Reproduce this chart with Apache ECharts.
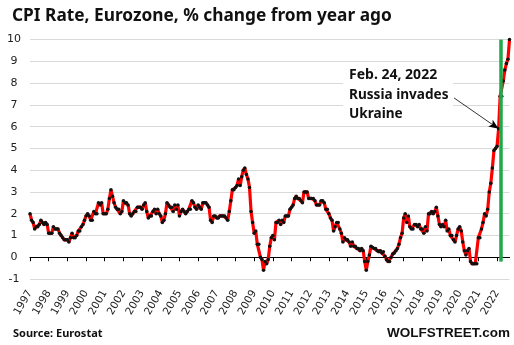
<!DOCTYPE html>
<html><head><meta charset="utf-8">
<script src="https://cdn.jsdelivr.net/npm/echarts@6/dist/echarts.min.js"></script>
<style>html,body{margin:0;padding:0;background:#fff}#c{width:514px;height:345px}</style>
</head><body><div id="c"></div>
<script>
// Year tick labels (x axis starts Jan 1997, monthly data)
const years = [1997,1998,1999,2000,2001,2002,2003,2004,2005,2006,2007,2008,2009,2010,2011,2012,2013,2014,2015,2016,2017,2018,2019,2020,2021,2022];
// CPI rate, % change from year ago, monthly
const y1997 = [2.0,1.7,1.6,1.3,1.4,1.4,1.5,1.7,1.6,1.5,1.6,1.5];
const y1998 = [1.1,1.1,1.1,1.4,1.3,1.3,1.3,1.1,1.0,0.9,0.8,0.8];
const y1999 = [0.8,0.7,0.9,1.1,0.9,0.9,1.0,1.2,1.2,1.4,1.5,1.7];
const y2000 = [1.9,2.0,1.9,1.7,1.7,2.1,2.0,2.0,2.5,2.4,2.5,2.0];
const y2001 = [2.0,2.0,2.2,2.7,3.1,2.8,2.5,2.3,2.2,2.2,2.0,2.1];
const y2002 = [2.6,2.5,2.5,2.4,2.0,1.9,2.0,2.1,2.1,2.3,2.3,2.3];
const y2003 = [2.2,2.4,2.5,2.1,1.8,1.9,1.9,2.1,2.2,2.0,2.2,2.0];
const y2004 = [1.9,1.6,1.7,2.0,2.5,2.4,2.3,2.3,2.1,2.4,2.2,2.4];
const y2005 = [1.9,2.1,2.2,2.1,2.0,2.1,2.2,2.2,2.6,2.5,2.3,2.2];
const y2006 = [2.4,2.3,2.2,2.5,2.5,2.5,2.4,2.3,1.7,1.6,1.9,1.9];
const y2007 = [1.8,1.8,1.9,1.9,1.9,1.9,1.8,1.7,2.1,2.6,3.1,3.1];
const y2008 = [3.2,3.3,3.6,3.3,3.7,4.0,4.1,3.8,3.6,3.2,2.1,1.6];
const y2009 = [1.1,1.2,0.6,0.6,0.0,-0.1,-0.6,-0.2,-0.3,-0.1,0.5,0.9];
const y2010 = [1.0,0.8,1.6,1.6,1.7,1.5,1.7,1.6,1.9,1.9,1.9,2.2];
const y2011 = [2.3,2.4,2.7,2.8,2.7,2.7,2.6,2.5,3.0,3.0,3.0,2.7];
const y2012 = [2.7,2.7,2.7,2.6,2.4,2.4,2.4,2.6,2.6,2.5,2.2,2.2];
const y2013 = [2.0,1.8,1.7,1.2,1.4,1.6,1.6,1.3,1.1,0.7,0.9,0.8];
const y2014 = [0.8,0.7,0.5,0.7,0.5,0.5,0.4,0.4,0.3,0.4,0.3,-0.2];
const y2015 = [-0.6,-0.2,0.1,0.5,0.45,0.4,0.4,0.3,0.25,0.3,0.2,0.25];
const y2016 = [0.05,-0.1,-0.2,-0.2,0.0,0.15,0.2,0.3,0.4,0.6,0.9,1.1];
const y2017 = [1.8,2.0,1.6,1.9,1.4,1.3,1.3,1.5,1.5,1.4,1.5,1.3];
const y2018 = [1.3,1.1,1.4,1.2,2.0,2.0,2.1,2.0,2.1,2.3,1.9,1.5];
const y2019 = [1.4,1.5,1.4,1.7,1.2,1.3,1.0,1.0,0.8,0.7,1.0,1.3];
const y2020 = [1.4,1.2,0.7,0.3,0.1,0.3,0.4,-0.2,-0.3,-0.3,-0.3,-0.3];
const y2021 = [0.9,0.9,1.3,1.6,2.0,1.9,2.2,3.0,3.4,4.1,4.9,5.0];
const y2022 = [5.1,5.9,7.4,7.4,8.1,8.6,8.9,9.1,10.0];
// Event annotation
const eventLines = ['Feb. 24, 2022', 'Russia invades', 'Ukraine'];
const eventMonthIndex = 302.5;   // position of the green marker (months since Jan 1997)
const arrowTargetIndex = 301;    // Feb 2022 data point
const titleText = 'CPI Rate, Eurozone, % change from year ago';
const sourceText = 'Source: Eurostat';
const brandText = 'WOLFSTREET.com';

const yearly = [y1997,y1998,y1999,y2000,y2001,y2002,y2003,y2004,y2005,y2006,y2007,y2008,y2009,y2010,y2011,y2012,y2013,y2014,y2015,y2016,y2017,y2018,y2019,y2020,y2021,y2022];
const values = [].concat(...yearly);
const seriesData = values.map((v, i) => [i, v]);
const lastIndex = values.length - 1;
const yearTickValues = years.map((y, i) => i * 12);

const chart = echarts.init(document.getElementById('c'), null, {renderer: 'canvas'});
const labelFont = 'DejaVu Sans';
const boldFont = 'Noto Sans';

chart.setOption({
  animation: false,
  backgroundColor: '#fff',
  title: {
    text: titleText, left: 7, top: 3,
    textStyle: {fontFamily: boldFont, fontWeight: 'bold', fontSize: 17.3, color: '#111'}
  },
  grid: {left: 30, right: 4.5, top: 39.6, bottom: 66, containLabel: false},
  xAxis: {
    type: 'value', min: 0, max: lastIndex,
    splitLine: {show: false},
    axisLine: {show: true, onZero: true, lineStyle: {color: '#000', width: 1.2}},
    axisTick: {show: true, customValues: yearTickValues, length: 4, inside: false, lineStyle: {color: '#000', width: 1}},
    axisLabel: {
      customValues: yearTickValues, rotate: 60, margin: 12,
      fontFamily: labelFont, fontSize: 10.5, color: '#222',
      formatter: v => String(years[Math.round(v / 12)])
    }
  },
  yAxis: {
    type: 'value', min: -1, max: 10, interval: 1,
    axisLine: {show: false}, axisTick: {show: false},
    splitLine: {show: true, lineStyle: {color: '#d9d9d9', width: 1}},
    axisLabel: {fontFamily: labelFont, fontSize: 11, color: '#222', align: 'center', margin: 16}
  },
  series: [{
    type: 'line', data: seriesData,
    lineStyle: {color: '#ff0000', width: 3.2},
    symbol: 'circle', symbolSize: 3.5, showSymbol: true,
    itemStyle: {color: '#111', borderWidth: 0},
    z: 3,
    markLine: {
      silent: true, animation: false, label: {show: false},
      symbol: ['none', 'none'],
      data: [
        [
          {coord: [eventMonthIndex, 10], lineStyle: {color: '#21a84a', width: 3.5, type: 'solid'}},
          {coord: [eventMonthIndex, -0.2]}
        ],
        [
          {coord: [272.4, 7.32], symbol: 'none', lineStyle: {color: '#000', width: 0.8, type: 'solid'}},
          {coord: [arrowTargetIndex, values[arrowTargetIndex]], symbol: 'arrow', symbolSize: [6, 10]}
        ]
      ]
    }
  }],
  graphic: [
    {type: 'rect', z: 100, shape: {x: 343, y: 64, width: 110, height: 57}, style: {fill: '#fff'}},
    {type: 'text', z: 101, x: 349, y: 75, style: {text: eventLines[0], font: 'bold 14px "Noto Sans"', fill: '#111', textVerticalAlign: 'middle'}},
    {type: 'text', z: 101, x: 349, y: 95, style: {text: eventLines[1], font: 'bold 13.6px "Noto Sans"', fill: '#111', textVerticalAlign: 'middle'}},
    {type: 'text', z: 101, x: 349, y: 114, style: {text: eventLines[2], font: 'bold 13.6px "Noto Sans"', fill: '#111', textVerticalAlign: 'middle'}},
    {type: 'text', z: 101, x: 13, y: 334, style: {text: sourceText, font: 'bold 11px "Noto Sans"', fill: '#111', textVerticalAlign: 'middle'}},
    {type: 'text', z: 101, x: 510, y: 333, style: {text: brandText, font: 'bold 13.5px "Liberation Sans"', fill: '#111', textAlign: 'right', textVerticalAlign: 'middle'}}
  ]
});
</script></body></html>
